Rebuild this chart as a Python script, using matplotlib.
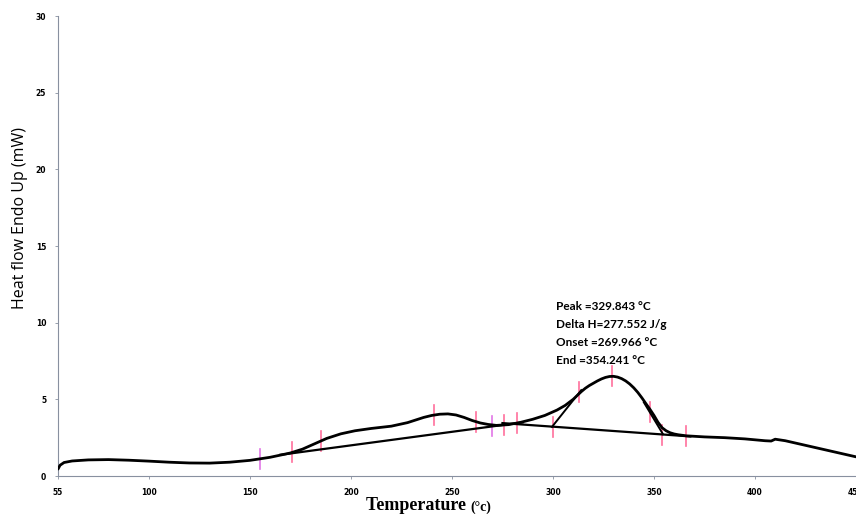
import numpy as np
import matplotlib.pyplot as plt

# DSC curve (temperature in C, heat flow in mW)
temp = [55, 56, 58, 62, 70, 80, 90, 100, 110, 120, 130, 140, 150, 160, 170,
        176, 182, 188, 195, 202, 210, 220, 228, 232, 236, 240, 244, 248, 252,
        256, 260, 264, 268, 272, 278, 284, 290, 296, 302, 306, 310, 312, 314,
        316, 318, 320, 322, 324, 326, 328, 330, 332, 334, 336, 338, 340, 342,
        344, 346, 348, 350, 352, 354, 356, 358, 360, 362, 366, 375, 385, 395,
        405, 408, 410, 415, 425, 435, 445, 450]
heat = [0.45, 0.7, 0.88, 0.98, 1.05, 1.07, 1.03, 0.97, 0.9, 0.85, 0.84, 0.9,
        1.02, 1.22, 1.5, 1.75, 2.1, 2.45, 2.75, 2.95, 3.1, 3.25, 3.48, 3.65,
        3.82, 3.95, 4.03, 4.05, 3.98, 3.82, 3.62, 3.46, 3.36, 3.3, 3.35, 3.5,
        3.7, 3.95, 4.3, 4.6, 5.0, 5.25, 5.5, 5.72, 5.9, 6.05, 6.2, 6.33, 6.43,
        6.49, 6.5, 6.45, 6.35, 6.2, 6.0, 5.75, 5.45, 5.1, 4.72, 4.35, 3.95,
        3.5, 3.15, 2.95, 2.82, 2.74, 2.69, 2.62, 2.55, 2.5, 2.42, 2.3, 2.28,
        2.4, 2.3, 2.0, 1.7, 1.4, 1.25]

# baselines and tangent lines (start, end)
base1_t = [165, 285]
base1_h = [1.38, 3.5]
base2_t = [275, 368]
base2_h = [3.45, 2.58]
onset_t = [299.5, 314]
onset_h = [3.2, 5.6]
end_t = [345, 354.5]
end_h = [4.8, 2.72]

# pink markers (temperature, centre value)
mark_t = [155, 171, 185, 241, 262, 270, 276, 282, 300, 313, 329, 348, 354, 366]
mark_h = [1.1, 1.55, 2.3, 4.0, 3.5, 3.25, 3.35, 3.45, 3.2, 5.45, 6.5, 4.2, 2.7, 2.6]

xticks = [55, 100, 150, 200, 250, 300, 350, 400, 450]
yticks = [0, 5, 10, 15, 20, 25, 30]

info = ["Peak =329.843 \u00b0C", "Delta H=277.552 J/g",
        "Onset =269.966 \u00b0C", "End =354.241 \u00b0C"]

fig = plt.figure(figsize=(8.56, 5.14), dpi=100)
ax = fig.add_axes([58 / 856, 38 / 514, 798 / 856, 460 / 514])

# pink markers behind the curve
for t, h in zip(mark_t, mark_h):
    col = '#e276e6' if t in (155, 270) else '#ff6f9c'
    ax.plot([t, t], [h - 0.65, h + 0.65], color=col, lw=1.2, zorder=1)

ax.plot(temp, heat, color='black', lw=2.0, solid_capstyle='round',
        solid_joinstyle='round', zorder=3)
ax.plot(base1_t, base1_h, color='black', lw=1.6, zorder=2)
ax.plot(base2_t, base2_h, color='black', lw=1.6, zorder=2)
ax.plot(onset_t, onset_h, color='black', lw=1.4, zorder=2)
ax.plot(end_t, end_h, color='black', lw=1.4, zorder=2)

ax.set_xlim(55, 450)
ax.set_ylim(0, 30)
ax.set_xticks(xticks)
ax.set_yticks(yticks)
ax.set_xticklabels([str(v) for v in xticks], fontsize=5.5, fontweight='bold')
ax.set_yticklabels([str(v) for v in yticks], fontsize=5.5, fontweight='bold')
ax.tick_params(axis='both', length=2.5, width=0.6, color='#8890a0', pad=6)

for s in ['top', 'right']:
    ax.spines[s].set_visible(False)
ax.spines['left'].set_color('#8890a0')
ax.spines['left'].set_linewidth(0.8)
ax.spines['bottom'].set_color('#8890a0')
ax.spines['bottom'].set_linewidth(0.8)
ax.spines['bottom'].set_linestyle((0, (4, 1)))

fig.text(20 / 856, 1 - 218 / 514, "Heat flow Endo Up (mW)", rotation=90,
         ha='center', va='center', fontsize=11.5, family='Open Sans')
fig.text(470 / 856, 1 - 506 / 514, "Temperature ", ha='right', va='center',
         fontsize=13, fontweight='bold', family='Liberation Serif')
fig.text(470 / 856, 1 - 507 / 514, "(\u00b0c)", ha='left', va='center',
         fontsize=10, fontweight='bold', family='Liberation Serif')

for i, line in enumerate(info):
    fig.text(556 / 856, 1 - (306 + 18 * i) / 514, line, ha='left', va='center',
             fontsize=8.5, fontweight='bold', family='Lato')

fig.savefig("out.png", dpi=100)
